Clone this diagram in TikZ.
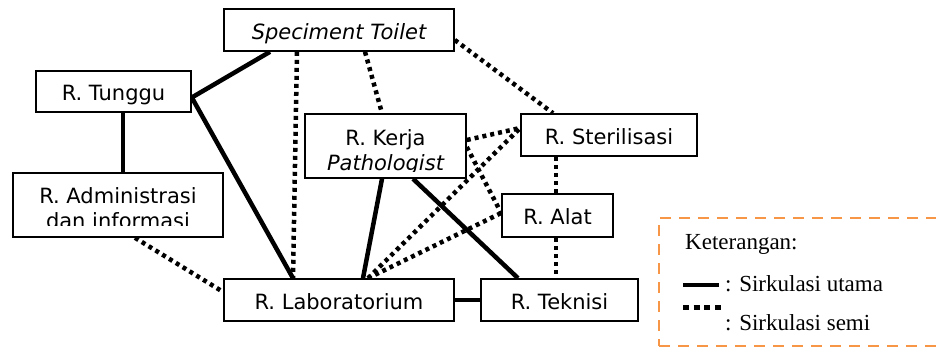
\documentclass[tikz,border=0pt]{standalone}
\usepackage{fontspec}
\setmainfont{Liberation Serif}
\newfontfamily\boxfont{DejaVu Sans}
\usetikzlibrary{backgrounds}
\definecolor{legendorange}{RGB}{247,150,70}
\tikzset{
  room/.style={draw, line width=1.6pt, fill=white, inner sep=0pt,
    text height=22pt, text depth=3pt,
    font=\boxfont\fontsize{21}{25}\selectfont},
  roomline/.style={inner sep=0pt, anchor=base, font=\boxfont\fontsize{21}{25}\selectfont},
  mainflow/.style={line width=4.5pt},
  semiflow/.style={line width=4.5pt, dash pattern=on 4pt off 4pt},
  semisample/.style={line width=5pt, dash pattern=on 6pt off 4.7pt},
  legendtext/.style={inner sep=0pt, anchor=base west, font=\fontsize{23}{27}\selectfont},
  legendframe/.style={draw=legendorange, line width=2.2pt, dash pattern=on 11pt off 8pt,
    inner sep=0pt, anchor=north west},
}

\begin{document}
\begin{tikzpicture}[x=1pt,y=-1pt]
\useasboundingbox (0,0) rectangle (936,347);

% rooms
\node[room, minimum width=230pt, minimum height=42pt] (toilet) at (339,30) {\itshape Speciment Toilet};
\node[room, minimum width=155pt, minimum height=41pt] (tunggu) at (113.5,91.5) {R. Tunggu};
\node[room, minimum width=161pt, minimum height=64pt, path picture={
    \node[roomline] (kerjaA) at (path picture bounding box.center) {R. Kerja};
    \node[roomline] (kerjaB) at ([yshift=-25pt]path picture bounding box.center) {\itshape Pathologist};
    \fill[white] (path picture bounding box.south west) rectangle ([yshift=6pt]path picture bounding box.south east);
  }] (kerja) at (385.5,146) {};
\node[room, minimum width=176pt, minimum height=42pt] (steril) at (609,135) {R. Sterilisasi};
\node[room, minimum width=210pt, minimum height=64pt, path picture={
    \node[roomline] (adminA) at ([yshift=1pt]path picture bounding box.center) {R. Administrasi};
    \node[roomline] (adminB) at ([yshift=-24pt]path picture bounding box.center) {dan informasi};
    \fill[white] (path picture bounding box.south west) rectangle ([yshift=11pt]path picture bounding box.south east);
  }] (admin) at (118,205) {};
\node[room, minimum width=111pt, minimum height=43pt] (alat) at (557.5,215.5) {R. Alat};
\node[room, minimum width=230pt, minimum height=42pt] (lab) at (339,300) {R. Laboratorium};
\node[room, minimum width=157pt, minimum height=42pt] (teknisi) at (559.5,300) {R. Teknisi};

% circulation paths
\begin{scope}[on background layer]
  % main circulation
  \draw[mainflow] ([xshift=-69pt]toilet.south) -- ([yshift=-6pt]tunggu.east);
  \draw[mainflow] ([yshift=-6pt]tunggu.east) -- ([xshift=-46pt]lab.north);
  \draw[mainflow] ([xshift=9.5pt]tunggu.south) -- ([xshift=5pt]admin.north);
  \draw[mainflow] ([xshift=-3.5pt]kerja.south) -- ([xshift=24pt]lab.north);
  \draw[mainflow] ([xshift=27.5pt]kerja.south) -- ([xshift=-41.5pt]teknisi.north);
  \draw[mainflow] (lab.east) -- (teknisi.west);
  % semi circulation
  \draw[semiflow] ([xshift=-42pt]toilet.south) -- ([xshift=-46pt]lab.north);
  \draw[semiflow] ([xshift=26pt]toilet.south) -- ([xshift=-3.5pt]kerja.north);
  \draw[semiflow] ([yshift=-10pt]toilet.east) -- ([xshift=-56pt]steril.north);
  \draw[semiflow] ([yshift=6pt]kerja.east) -- ([yshift=7pt]steril.west);
  \draw[semiflow] ([xshift=29pt]lab.north) -- ([yshift=7pt]steril.west);
  \draw[semiflow] ([xshift=29pt]lab.north) -- ([yshift=2.5pt]alat.west);
  \draw[semiflow] ([yshift=-1pt]kerja.east) -- ([yshift=2.5pt]alat.west);
  \draw[semiflow] ([xshift=-53pt]steril.south) -- ([xshift=-1.5pt]alat.north);
  \draw[semiflow] ([xshift=-1.5pt]alat.south) -- ([xshift=-3.5pt]teknisi.north);
  \draw[semiflow] ([xshift=17pt]admin.south) -- ([yshift=8pt]lab.west);
\end{scope}

% legend
\node[legendframe, minimum width=284pt, minimum height=128pt] (legend) at (658,217) {};
\node[legendtext] (legendtitle) at (685,249) {Keterangan:};
\coordinate (mainA) at (683,285);
\coordinate (mainB) at (719,285);
\draw[mainflow] (mainA) -- (mainB);
\node[legendtext] (legendmain) at (725,291) {: Sirkulasi utama};
\coordinate (semiA) at (683,307);
\coordinate (semiB) at (721,307);
\draw[semisample] (semiA) -- (semiB);
\node[legendtext] (legendsemi) at (725,330) {: Sirkulasi semi};
\end{tikzpicture}
\end{document}
